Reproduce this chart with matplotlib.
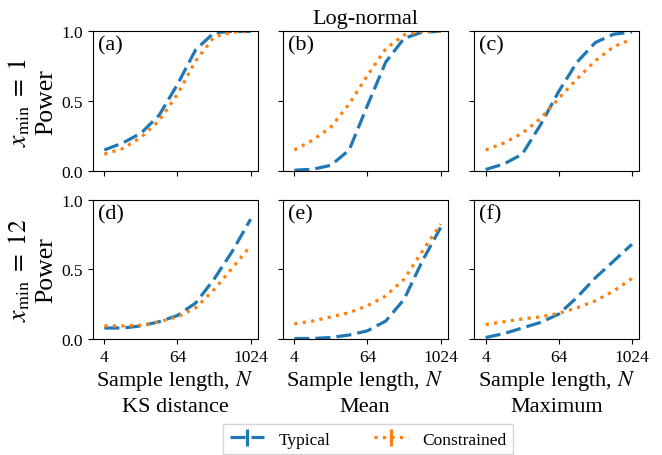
import numpy as np
import matplotlib
matplotlib.use('Agg')
import matplotlib.pyplot as plt
from matplotlib.ticker import NullLocator

plt.rcParams['font.family'] = ['Liberation Serif', 'DejaVu Serif']
plt.rcParams['mathtext.fontset'] = 'stix'

N = np.array([4, 8, 16, 32, 64, 128, 256, 512, 1024])

# typical / constrained power, row xmin=1 then xmin=12
typ_ks1 = [0.15, 0.20, 0.27, 0.40, 0.62, 0.87, 0.99, 1.0, 1.0]
con_ks1 = [0.12, 0.16, 0.24, 0.36, 0.55, 0.79, 0.96, 0.995, 1.0]
typ_mean1 = [0.005, 0.012, 0.04, 0.15, 0.47, 0.78, 0.95, 0.995, 1.0]
con_mean1 = [0.15, 0.22, 0.315, 0.48, 0.685, 0.875, 0.975, 1.0, 1.0]
typ_max1 = [0.01, 0.05, 0.12, 0.33, 0.57, 0.78, 0.92, 0.98, 0.995]
con_max1 = [0.15, 0.20, 0.27, 0.375, 0.52, 0.66, 0.79, 0.89, 0.945]

typ_ks12 = [0.08, 0.08, 0.095, 0.125, 0.17, 0.26, 0.43, 0.63, 0.86]
con_ks12 = [0.095, 0.095, 0.10, 0.125, 0.16, 0.225, 0.355, 0.51, 0.67]
typ_mean12 = [0.005, 0.005, 0.012, 0.03, 0.06, 0.13, 0.285, 0.56, 0.80]
con_mean12 = [0.11, 0.13, 0.16, 0.19, 0.24, 0.31, 0.43, 0.63, 0.825]
typ_max12 = [0.012, 0.04, 0.08, 0.12, 0.18, 0.30, 0.44, 0.56, 0.68]
con_max12 = [0.105, 0.125, 0.145, 0.16, 0.185, 0.225, 0.275, 0.345, 0.435]

typical = [[typ_ks1, typ_mean1, typ_max1], [typ_ks12, typ_mean12, typ_max12]]
constrained = [[con_ks1, con_mean1, con_max1], [con_ks12, con_mean12, con_max12]]
panel_tags = [['(a)', '(b)', '(c)'], ['(d)', '(e)', '(f)']]
row_labels = ['$x_{\\rm min}\\;=\\;1$\nPower', '$x_{\\rm min}\\;=\\;12$\nPower']
stat_names = ['KS distance', 'Mean', 'Maximum']

fig = plt.figure(figsize=(6.62, 4.56), dpi=100)
lefts = [0.140, 0.427, 0.716]
bottoms = [0.623, 0.254]
w, h = 0.249, 0.306

for r in range(2):
    for c in range(3):
        ax = fig.add_axes([lefts[c], bottoms[r], w, h])
        zero = np.zeros(len(N))
        eb = ax.errorbar(N, typical[r][c], yerr=zero, color='tab:blue', ls='--', lw=2.3, label='Typical')
        eb[0].set_dashes((4.7, 1.9))
        ax.errorbar(N, constrained[r][c], yerr=zero, color='tab:orange', ls=':', lw=2.3, label='Constrained')
        ax.set_xscale('log', base=2)
        ax.set_xlim(2.57, 1330)
        ax.set_ylim(0, 1)
        ax.set_xticks([4, 64, 1024])
        ax.xaxis.set_minor_locator(NullLocator())
        ax.set_yticks([0, 0.5, 1.0])
        ax.tick_params(labelsize=12.5)
        if r == 1:
            ax.set_xticklabels(['4', '64', '1024'])
            ax.set_xlabel('Sample length, $N$\n' + stat_names[c], fontsize=16, labelpad=2, linespacing=1.35)
        else:
            ax.set_xticklabels([])
        if c == 0:
            ax.set_yticklabels(['0.0', '0.5', '1.0'])
            ax.set_ylabel(row_labels[r], fontsize=18.5, labelpad=3, linespacing=1.2)
        else:
            ax.set_yticklabels([])
        ax.text(0.03, 0.97, panel_tags[r][c], transform=ax.transAxes, fontsize=16, va='top', ha='left')
        if r == 0 and c == 1:
            ax.set_title('Log-normal', fontsize=16)
        if r == 0 and c == 0:
            handles, labels = ax.get_legend_handles_labels()

fig.legend(handles, labels, loc='upper center', bbox_to_anchor=(0.556, 0.067), ncol=2,
           fontsize=12.5, fancybox=False, columnspacing=2.5, borderaxespad=0)

fig.savefig('out.png', dpi=100)
